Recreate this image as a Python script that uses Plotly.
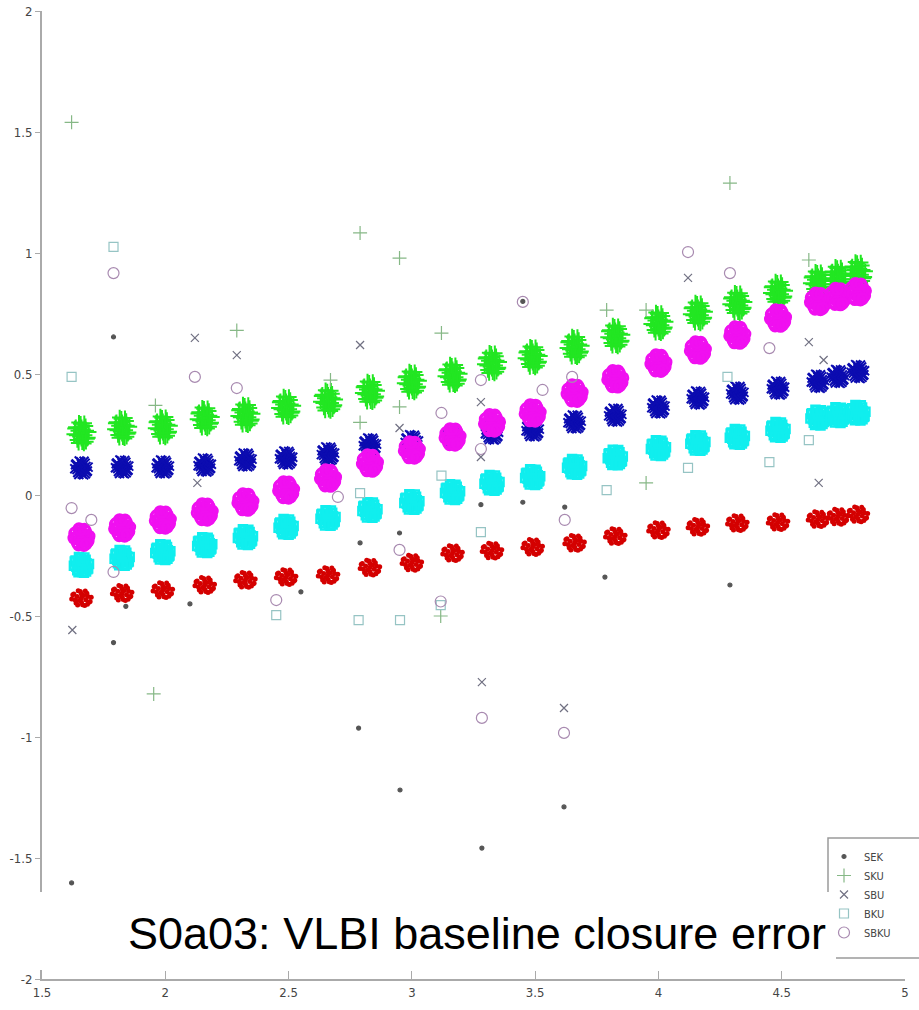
import plotly.graph_objects as go

# ---------------- data ----------------
# cluster centre positions (x) and cluster centre values per series
cluster_x = [1.66, 1.825, 1.99, 2.16, 2.325, 2.49, 2.66, 2.83, 3.0, 3.165, 3.325,
             3.49, 3.66, 3.825, 4.0, 4.16, 4.32, 4.485, 4.647, 4.728, 4.809]
sek_centres = [-0.426, -0.405, -0.393, -0.372, -0.351, -0.339, -0.331, -0.30, -0.28, -0.24, -0.23,
               -0.215, -0.198, -0.17, -0.145, -0.132, -0.116, -0.112, -0.10, -0.09, -0.08]
sku_centres = [0.256, 0.277, 0.281, 0.318, 0.331, 0.364, 0.39, 0.426, 0.467, 0.496, 0.545,
               0.570, 0.612, 0.657, 0.711, 0.752, 0.793, 0.839, 0.88, 0.90, 0.92]
sbu_centres = [0.112, 0.116, 0.116, 0.124, 0.145, 0.153, 0.17, 0.207, 0.22, 0.24, 0.256,
               0.269, 0.302, 0.33, 0.364, 0.401, 0.421, 0.442, 0.47, 0.49, 0.51]
bku_centres = [-0.289, -0.260, -0.236, -0.207, -0.174, -0.132, -0.095, -0.062, -0.029, 0.012, 0.050,
               0.074, 0.116, 0.155, 0.194, 0.215, 0.240, 0.269, 0.32, 0.33, 0.34]
sbku_centres = [-0.174, -0.136, -0.103, -0.070, -0.029, 0.021, 0.07, 0.132, 0.186, 0.240, 0.298,
                0.339, 0.421, 0.48, 0.545, 0.599, 0.661, 0.731, 0.80, 0.82, 0.84]

# hand-typed scatter pattern of the points inside one cluster (normalised units)
pattern_dx = [0.0, 0.5, -0.5, 0.9, -0.9, 0.3, -0.3, 0.7, -0.7, 0.0, 0.4, -0.4,
              0.8, -0.8, 0.2, -0.2, 0.6, -0.6, 0.0, 0.35, -0.35, 0.1, -0.1, 0.55]
pattern_dy = [0.0, 0.6, -0.6, 0.1, -0.1, -0.9, 0.9, -0.5, 0.5, 0.5, -0.2, 0.2,
              -0.4, 0.4, 0.3, -0.3, 0.2, -0.2, -0.5, 0.85, -0.85, -0.8, 0.8, -0.75]

# outliers per series (x, y)
sek_out_x = [1.79, 1.79, 1.62, 2.784, 2.952, 3.284, 3.617, 3.783, 4.29, 3.45, 3.28, 3.45, 3.62,
             2.95, 2.79, 1.84, 2.10, 2.55]
sek_out_y = [0.653, -0.61, -1.603, -0.963, -1.219, -1.459, -1.289, -0.339, -0.372, 0.80, -0.04, -0.03, -0.05,
             -0.157, -0.198, -0.46, -0.45, -0.40]
sku_out_x = [1.62, 2.29, 2.79, 2.95, 3.12, 3.79, 3.95, 4.29, 4.61, 1.953, 3.117, 2.67, 2.79, 2.95, 3.95, 1.96]
sku_out_y = [1.54, 0.68, 1.083, 0.979, 0.669, 0.764, 0.764, 1.289, 0.971, -0.822, -0.5, 0.475, 0.30, 0.364, 0.05, 0.37]
sbu_out_x = [2.12, 2.29, 2.79, 4.12, 4.61, 4.67, 1.623, 3.284, 3.617, 4.65, 2.95, 3.28, 3.28, 2.13]
sbu_out_y = [0.649, 0.578, 0.62, 0.897, 0.632, 0.558, -0.558, -0.773, -0.88, 0.05, 0.277, 0.384, 0.157, 0.05]
bku_out_x = [1.62, 1.79, 2.45, 2.784, 2.952, 3.117, 3.28, 3.79, 4.12, 4.45, 4.28, 4.61, 2.79, 3.12]
bku_out_y = [0.488, 1.025, -0.496, -0.517, -0.517, -0.455, -0.153, 0.02, 0.112, 0.136, 0.488, 0.227, 0.008, 0.08]
sbku_out_x = [1.79, 2.12, 2.29, 1.62, 1.70, 1.79, 2.45, 3.117, 3.284, 3.617, 4.12, 4.29, 4.45, 3.45,
              3.12, 3.28, 3.53, 3.65, 3.62, 2.95, 2.7, 3.28]
sbku_out_y = [0.917, 0.488, 0.442, -0.054, -0.103, -0.318, -0.434, -0.44, -0.921, -0.983, 1.004, 0.917, 0.607, 0.798,
              0.339, 0.475, 0.434, 0.488, -0.103, -0.227, -0.008, 0.19]

series_names = ["SEK", "SKU", "SBU", "BKU", "SBKU"]
x_ticks = [1.5, 2, 2.5, 3, 3.5, 4, 4.5, 5]
x_tick_labels = ["1.5", "2", "2.5", "3", "3.5", "4", "4.5", "5"]
y_ticks = [-2, -1.5, -1, -0.5, 0, 0.5, 1, 1.5, 2]
y_tick_labels = ["-2", "-1.5", "-1", "-0.5", "0", "0.5", "1", "1.5", "2"]
title_text = "S0a03: VLBI baseline closure error"

# ---------------- styles ----------------
styles = {
    "SEK":  dict(centres=sek_centres, sx=0.044, sy=0.034, sym="circle", size=5, lw=0, col="#d40000",
                 ox=sek_out_x, oy=sek_out_y, osym="circle", osize=4, ocol="#555555"),
    "SKU":  dict(centres=sku_centres, sx=0.033, sy=0.048, sym="cross-thin", size=11, lw=2, col="#22e622",
                 ox=sku_out_x, oy=sku_out_y, osym="cross-thin", osize=10, ocol="#86b886"),
    "SBU":  dict(centres=sbu_centres, sx=0.030, sy=0.032, sym="x-thin", size=9, lw=2, col="#0c0cb0",
                 ox=sbu_out_x, oy=sbu_out_y, osym="x-thin", osize=8, ocol="#707082"),
    "BKU":  dict(centres=bku_centres, sx=0.034, sy=0.036, sym="square-open", size=8, lw=2.5, col="#10eeee",
                 ox=bku_out_x, oy=bku_out_y, osym="square-open", osize=9, ocol="#96c4c4"),
    "SBKU": dict(centres=sbku_centres, sx=0.034, sy=0.038, sym="circle-open", size=10, lw=3, col="#f010f0",
                 ox=sbku_out_x, oy=sbku_out_y, osym="circle-open", osize=11, ocol="#a88ab0"),
}

fig = go.Figure()
for name in series_names:
    s = styles[name]
    xs, ys = [], []
    for cx, cy in zip(cluster_x, s["centres"]):
        for dx, dy in zip(pattern_dx, pattern_dy):
            xs.append(cx + dx * s["sx"])
            ys.append(cy + dy * s["sy"])
    mk = dict(symbol=s["sym"], size=s["size"], color=s["col"])
    if s["lw"]:
        mk["line"] = dict(width=s["lw"], color=s["col"])
    fig.add_trace(go.Scatter(x=xs, y=ys, mode="markers", marker=mk, showlegend=False,
                             hoverinfo="skip"))
    omk = dict(symbol=s["osym"], size=s["osize"], color=s["ocol"],
               line=dict(width=1.2, color=s["ocol"]))
    fig.add_trace(go.Scatter(x=s["ox"], y=s["oy"], mode="markers", marker=omk, name=name,
                             showlegend=True))

axis_font = dict(family="Liberation Sans Narrow, DejaVu Sans Condensed, Arial", size=13, color="#444444")


def px_x(p):
    return (p - 42) / 863


def px_y(p):
    return (979 - p) / 968


fig.update_layout(
    width=919, height=1010, autosize=False,
    margin=dict(l=42, r=14, t=11, b=31, autoexpand=False),
    paper_bgcolor="white", plot_bgcolor="white",
    xaxis=dict(range=[1.5, 5], tickvals=x_ticks, ticktext=x_tick_labels, showgrid=False, zeroline=False,
               showline=True, linecolor="#aaaaaa", linewidth=2, ticks="inside", ticklen=8,
               tickcolor="#aaaaaa", tickfont=axis_font),
    yaxis=dict(range=[-2, 2], tickvals=y_ticks, ticktext=y_tick_labels, showgrid=False, zeroline=False,
               showline=True, linecolor="#aaaaaa", linewidth=2, ticks="outside", ticklen=5,
               tickcolor="#aaaaaa", tickfont=axis_font),
    legend=dict(xref="paper", yref="paper", x=px_x(824), y=px_y(842),
                xanchor="left", yanchor="top", bgcolor="rgba(0,0,0,0)", borderwidth=0,
                font=dict(family="Liberation Sans Narrow, DejaVu Sans Condensed, Arial", size=11,
                          color="#444444"),
                tracegroupgap=0),
    showlegend=True,
)

# legend frame
fig.add_shape(type="rect", xref="paper", yref="paper", x0=px_x(828), x1=px_x(935),
              y0=px_y(958), y1=px_y(838), line=dict(color="#9a9a9a", width=1.5),
              fillcolor="rgba(0,0,0,0)", layer="above")
# white title box
fig.add_shape(type="rect", xref="paper", yref="paper", x0=px_x(0), x1=px_x(836),
              y0=px_y(970), y1=px_y(892), line=dict(width=0), fillcolor="white", layer="above")
fig.add_annotation(text=title_text, xref="paper", yref="paper", x=px_x(477), y=px_y(933),
                   xanchor="center", yanchor="middle", showarrow=False,
                   font=dict(family="Liberation Sans, Arial", size=45, color="black"))

fig.write_html("out.html")
